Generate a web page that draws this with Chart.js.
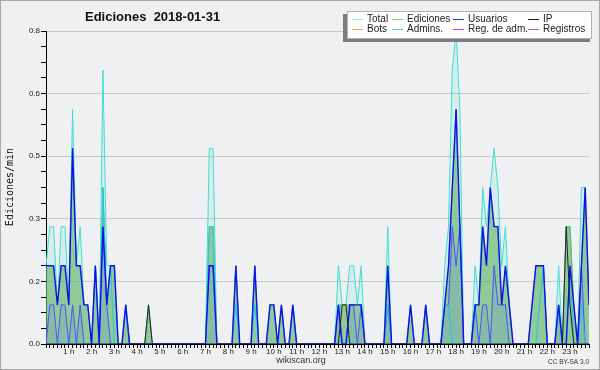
<!DOCTYPE html>
<html>
<head>
<meta charset="utf-8">
<script src="https://cdn.jsdelivr.net/npm/chart.js@4.4.0/dist/chart.umd.min.js"></script>
<style>
  html, body { margin: 0; padding: 0; background: #eff0f2; }
</style>
</head>
<body>
<canvas id="myChart" width="600" height="370"></canvas>
<script>
// one value per 10 minutes, 144 bins over the day (edits per minute)
const total = [
  .2,.3,.3,.1,.3,.3,.1,.6,.2,.3,.1,.1,
  0,.2,0,.7,.2,.2,.2,0,0,.1,0,0,
  0,0,0,.1,0,0,0,0,0,0,0,0,
  0,0,0,0,0,0,0,.5,.5,0,0,0,
  0,0,.2,0,0,0,0,.2,0,0,0,.1,
  .1,0,.1,0,0,.1,0,0,0,0,0,0,
  0,0,0,0,0,.2,.1,.1,.2,.2,.1,.2,
  0,0,0,0,0,0,.3,0,0,0,0,0,
  .1,0,0,0,.1,0,0,0,0,.2,.3,.7,
  .8,.6,0,0,0,.2,.1,.4,.3,.4,.5,.4,
  .2,.3,.1,0,0,0,0,0,.1,.2,.2,.2,
  0,0,0,.2,0,.3,.3,.1,0,.4,.4,.1
];
const ediciones = [
  .2,.2,.2,.1,.2,.2,.1,.5,.2,.2,.1,.1,
  0,.2,0,.4,.1,.2,.2,0,0,.1,0,0,
  0,0,0,.1,0,0,0,0,0,0,0,0,
  0,0,0,0,0,0,0,.3,.3,0,0,0,
  0,0,.2,0,0,0,0,.2,0,0,0,.1,
  .1,0,.1,0,0,.1,0,0,0,0,0,0,
  0,0,0,0,0,.1,.1,.1,.1,.1,.1,.1,
  0,0,0,0,0,0,.2,0,0,0,0,0,
  .1,0,0,0,.1,0,0,0,0,.1,.2,.4,
  .6,.3,0,0,0,.1,.1,.3,.2,.4,.3,.3,
  .1,.2,.1,0,0,0,0,0,.1,.2,.2,.2,
  0,0,0,.1,0,.3,.3,.1,0,.2,.4,.1
];
const usuarios = [
  .2,.2,.2,.1,.2,.2,.1,.5,.2,.2,.1,.1,
  0,.2,0,.3,.1,.2,.2,0,0,.1,0,0,
  0,0,0,0,0,0,0,0,0,0,0,0,
  0,0,0,0,0,0,0,.2,.2,0,0,0,
  0,0,.2,0,0,0,0,.2,0,0,0,.1,
  .1,0,.1,0,0,.1,0,0,0,0,0,0,
  0,0,0,0,0,.1,0,0,.1,.1,.1,.1,
  0,0,0,0,0,0,.2,0,0,0,0,0,
  .1,0,0,0,.1,0,0,0,0,.1,.2,.4,
  .6,.3,0,0,0,.1,.1,.3,.2,.4,.3,.3,
  .1,.2,.1,0,0,0,0,0,.1,.2,.2,.2,
  0,0,0,.1,0,0,.2,.1,0,.2,.4,.1
];
const ip = [
  0,0,0,0,0,0,0,0,0,0,0,0,
  0,0,0,0,0,0,0,0,0,0,0,0,
  0,0,0,.1,0,0,0,0,0,0,0,0,
  0,0,0,0,0,0,0,0,0,0,0,0,
  0,0,0,0,0,0,0,0,0,0,0,0,
  0,0,0,0,0,0,0,0,0,0,0,0,
  0,0,0,0,0,0,.1,.1,0,0,0,0,
  0,0,0,0,0,0,0,0,0,0,0,0,
  0,0,0,0,0,0,0,0,0,0,0,0,
  0,0,0,0,0,0,0,0,0,0,0,0,
  0,0,0,0,0,0,0,0,0,0,0,0,
  0,0,0,0,0,.3,.1,0,0,0,0,0
];
const admins = [
  0,0,0,0,0,0,0,0,0,0,0,0,
  0,.2,0,.4,.1,.2,0,0,0,.1,0,0,
  0,0,0,0,0,0,0,0,0,0,0,0,
  0,0,0,0,0,0,0,.3,.3,0,0,0,
  0,0,.1,0,0,0,0,.1,0,0,0,0,
  0,0,0,0,0,.1,0,0,0,0,0,0,
  0,0,0,0,0,0,0,0,0,0,0,0,
  0,0,0,0,0,0,.1,0,0,0,0,0,
  0,0,0,0,0,0,0,0,0,.1,.1,0,
  0,0,0,0,0,0,0,0,0,0,0,0,
  0,0,0,0,0,0,0,0,0,0,.1,.2,
  0,0,0,.1,0,0,.2,0,0,.1,0,0
];
const registros = [
  0,.1,.1,0,.1,.1,0,.1,0,.1,0,0,
  0,0,0,.3,.1,0,0,0,0,0,0,0,
  0,0,0,0,0,0,0,0,0,0,0,0,
  0,0,0,0,0,0,0,.2,.2,0,0,0,
  0,0,0,0,0,0,0,0,0,0,0,0,
  0,0,0,0,0,0,0,0,0,0,0,0,
  0,0,0,0,0,.1,0,0,.1,.1,0,.1,
  0,0,0,0,0,0,.1,0,0,0,0,0,
  0,0,0,0,0,0,0,0,0,.1,.1,.3,
  .2,.3,0,0,0,.1,0,.1,.1,0,.2,.1,
  .1,.1,0,0,0,0,0,0,0,0,0,0,
  0,0,0,.1,0,0,0,0,0,.2,0,0
];
const hourLabels = ['1 h','2 h','3 h','4 h','5 h','6 h','7 h','8 h','9 h','10 h','11 h','12 h',
  '13 h','14 h','15 h','16 h','17 h','18 h','19 h','20 h','21 h','22 h','23 h'];
const yLabels = ['0.0','0.2','0.3','0.5','0.6','0.8'];
const legendItems = [
  ['Total', '#a8e8e0'], ['Bots', '#ffa040'],
  ['Ediciones', '#78cc78'], ['Admins.', '#40cce0'],
  ['Usuarios', '#3838e0'], ['Reg. de adm.', '#e040e0'],
  ['IP', '#202020'], ['Registros', '#7070ff']
];
const titleText = 'Ediciones  2018-01-31';

const pts = arr => arr.map((v, i) => ({ x: i, y: v }));

const line = (label, arr, color, width, fillColor, order) => ({
  label, data: pts(arr), borderColor: color, borderWidth: width,
  backgroundColor: fillColor || 'transparent', fill: fillColor ? 'origin' : false,
  pointRadius: 0, tension: 0, order
});

// background, title, legend box, footer
const decor = {
  id: 'decor',
  beforeDraw(chart) {
    const c = chart.ctx;
    c.save();
    c.fillStyle = '#eff0f2';
    c.fillRect(0, 0, 600, 370);
    c.strokeStyle = '#a8a8a8';
    c.strokeRect(0.5, 0.5, 599, 369);
    c.restore();
  },
  afterDraw(chart) {
    const c = chart.ctx;
    c.save();
    c.fillStyle = '#111';
    c.textBaseline = 'middle';
    c.font = 'bold 13px "Liberation Sans"';
    c.fillText(titleText, 85, 17);

    c.save();
    c.translate(10, 187);
    c.rotate(-Math.PI / 2);
    c.textAlign = 'center';
    c.font = '10px "DejaVu Sans Mono"';
    c.fillText('Ediciones/min', 0, 0);
    c.restore();

    c.fillStyle = '#333';
    c.textAlign = 'center';
    c.font = '9px "Liberation Sans"';
    c.fillText('wikiscan.org', 301, 361);
    c.textAlign = 'right';
    c.font = '6.5px "Liberation Sans"';
    c.fillText('CC BY-SA 3.0', 589, 362);

    // legend
    c.fillStyle = '#7d7d7d';
    c.fillRect(343, 14, 247, 28);
    c.fillStyle = '#fff';
    c.fillRect(347, 11, 245, 28);
    c.strokeStyle = '#b0b0b0';
    c.lineWidth = 1;
    c.strokeRect(347.5, 11.5, 244, 27);
    const cols = [352, 392, 453, 528];
    const rows = [19, 29];
    c.textAlign = 'left';
    c.font = '10px "Liberation Sans"';
    legendItems.forEach((it, k) => {
      const x = cols[Math.floor(k / 2)], y = rows[k % 2];
      c.fillStyle = it[1];
      c.fillRect(x, y, 11, 1);
      c.fillStyle = '#222';
      c.fillText(it[0], x + 15, y);
    });
    c.restore();
  }
};

const config = {
  type: 'line',
  data: {
    datasets: [
      line('Total', total, '#40e0d0', 1, 'rgba(64,224,208,0.15)', 6),
      line('Ediciones', ediciones, '#5cbf5c', 1, 'rgba(96,180,96,0.6)', 5),
      line('Registros', registros, '#5050ff', 1, 'rgba(70,70,255,0.12)', 4),
      line('Admins.', admins, '#28c4e0', 1, null, 3),
      line('Usuarios', usuarios, '#1010ee', 1.4, null, 2),
      line('IP', ip, '#222', 1, null, 1)
    ]
  },
  options: {
    responsive: false,
    animation: false,
    events: [],
    layout: { padding: { left: 0, right: 11, top: 31, bottom: 0 } },
    plugins: { legend: { display: false }, tooltip: { enabled: false } },
    scales: {
      x: {
        type: 'linear', min: 0, max: 143, z: 1,
        afterFit: s => { s.height = 26; },
        border: { color: '#000', width: 1 },
        grid: { drawOnChartArea: false, tickLength: 4, tickColor: '#000' },
        ticks: {
          stepSize: 1, autoSkip: false, maxRotation: 0, padding: -1,
          color: '#222', font: { family: 'Liberation Sans', size: 8 },
          callback: v => (v % 6 === 0 && v > 0) ? hourLabels[v / 6 - 1] : ''
        }
      },
      y: {
        min: 0, max: 0.8,
        afterFit: s => { s.width = 46; },
        border: { color: '#000', width: 1 },
        grid: {
          tickLength: 5, tickColor: '#000',
          color: ctx => ctx.index % 4 === 0 ? '#c9c9c9' : 'rgba(0,0,0,0)'
        },
        ticks: {
          stepSize: 0.04, autoSkip: false, padding: 1,
          color: '#222', font: { family: 'Liberation Sans', size: 8 },
          callback: (v, i) => i % 4 === 0 ? yLabels[i / 4] : ''
        }
      }
    }
  },
  plugins: [decor]
};

const myChart = new Chart(document.getElementById('myChart'), config);
</script>
</body>
</html>
